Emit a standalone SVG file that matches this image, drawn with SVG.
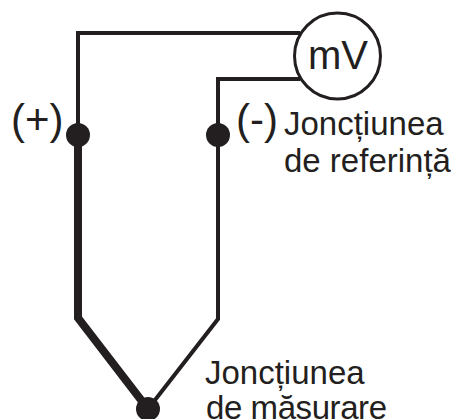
<svg xmlns="http://www.w3.org/2000/svg" width="451" height="419" viewBox="0 0 451 419">
<style>
.w{fill:none;stroke:#231f20;stroke-linejoin:miter}
.d{fill:#231f20}
text{font-family:"Liberation Sans",Arial,sans-serif;fill:#231f20}
.l{font-size:33px}
.b{font-size:42px}
</style>
<rect width="451" height="419" fill="#fff"/>
<g id="connectors">
<path class="w" stroke-width="4" d="M300 33H78V134"/>
<path class="w" stroke-width="4" d="M300 79H218V134"/>
<path class="w" stroke-width="8" d="M78 134V318L148 409"/>
<path class="w" stroke-width="4" d="M218 134V319L148 409"/>
</g>
<g id="mv"><circle cx="337.5" cy="56" r="43" fill="#fff" stroke="#231f20" stroke-width="3"/><text class="b" x="338" y="69" text-anchor="middle" style="font-size:40px">mV</text></g>
<g id="plus"><circle class="d" cx="78" cy="135" r="12"/><text class="b" x="11" y="134">(+)</text></g>
<g id="minus"><circle class="d" cx="218" cy="135" r="12"/><text class="b" x="236" y="134">(-)</text></g>
<g id="ref"><text class="l" x="284" y="135">Joncțiunea</text><text class="l" x="284" y="172">de referință</text></g>
<g id="mas"><circle class="d" cx="148" cy="409" r="12"/><text class="l" x="205" y="384">Joncțiunea</text><text class="l" x="206" y="418.500" textLength="181">de măsurare</text></g>
</svg>
